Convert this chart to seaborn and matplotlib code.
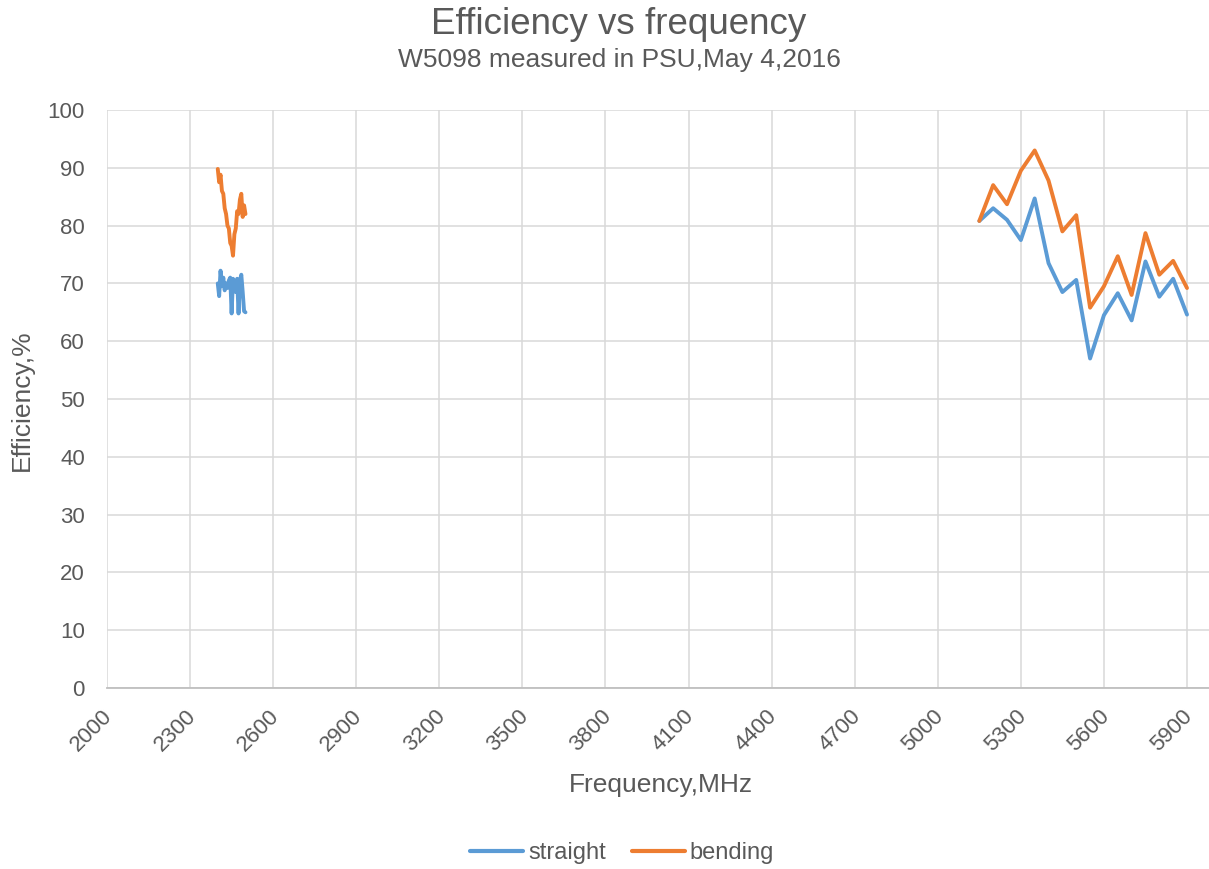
import numpy as np
import pandas as pd
import matplotlib
matplotlib.use("Agg")
import matplotlib.pyplot as plt
import matplotlib.transforms as mtransforms
import seaborn as sns

# 2.4 GHz band
freq_24 = [2400, 2405, 2410, 2415, 2420, 2425, 2430, 2435, 2440, 2445, 2450,
           2455, 2460, 2465, 2470, 2475, 2480, 2485, 2490, 2495, 2500]
straight_24 = [70.0, 67.8, 72.2, 69.5, 71.0, 68.8, 70.0, 69.2, 70.5, 71.0, 64.8,
               70.8, 69.0, 68.5, 70.8, 64.8, 70.5, 71.5, 68.5, 65.2, 65.0]
bending_24 = [89.8, 87.5, 88.8, 86.0, 85.5, 83.0, 82.0, 80.0, 79.5, 77.0, 76.5,
              74.8, 78.5, 79.5, 82.5, 82.0, 84.5, 85.5, 81.5, 83.5, 82.0]

# 5 GHz band
freq_5 = [5150, 5200, 5250, 5300, 5350, 5400, 5450, 5500,
          5550, 5600, 5650, 5700, 5750, 5800, 5850, 5900]
straight_5 = [80.8, 83.0, 81.0, 77.5, 84.7, 73.5, 68.5, 70.6,
              57.0, 64.5, 68.3, 63.6, 73.8, 67.7, 70.8, 64.6]
bending_5 = [80.8, 87.0, 83.7, 89.5, 93.0, 87.8, 79.0, 81.8,
             65.8, 69.5, 74.7, 68.0, 78.7, 71.5, 73.9, 69.2]

x_ticks = list(range(2000, 6000, 300))
y_ticks = list(range(0, 101, 10))

rows = []
for band, f, s, b in [("2.4G", freq_24, straight_24, bending_24),
                      ("5G", freq_5, straight_5, bending_5)]:
    for fi, si, bi in zip(f, s, b):
        rows.append({"freq": fi, "eff": si, "series": "straight", "band": band})
        rows.append({"freq": fi, "eff": bi, "series": "bending", "band": band})
df = pd.DataFrame(rows)

sns.set_theme(style="white")
plt.rcParams["font.family"] = ["Liberation Sans", "DejaVu Sans"]
text_col = "#595959"

fig = plt.figure(figsize=(12.09, 8.69), dpi=100)
ax = fig.add_axes([107 / 1209, 1 - 688 / 869, 1 - 107 / 1209, (688 - 110) / 869])

sns.lineplot(data=df, x="freq", y="eff", hue="series", units="band",
             estimator=None, sort=False, palette={"straight": "#5B9BD5", "bending": "#ED7D31"},
             linewidth=2.8, ax=ax, legend=True)

ax.set_xlim(2000, 2000 + (1209 - 107) / (1080 / 3900))
ax.set_ylim(0, 100)
ax.set_xticks(x_ticks)
ax.set_yticks(y_ticks)
ax.grid(True, color="#d9d9d9", linewidth=1.1)
ax.set_axisbelow(True)
for side in ["left", "right", "top"]:
    ax.spines[side].set_visible(False)
ax.spines["bottom"].set_color("#bfbfbf")
ax.spines["bottom"].set_linewidth(1.3)
ax.tick_params(axis="both", length=0, colors=text_col, labelsize=16)
ax.tick_params(axis="y", pad=16)
ax.tick_params(axis="x", pad=13)
shift = mtransforms.ScaledTranslation(-5 / 100, 0, fig.dpi_scale_trans)
for lbl in ax.get_xticklabels():
    lbl.set_rotation(45)
    lbl.set_ha("right")
    lbl.set_va("top")
    lbl.set_rotation_mode("anchor")
    lbl.set_transform(lbl.get_transform() + shift)
ax.set_xlabel("")
ax.set_ylabel("")

fig.text(661 / 1209, 1 - 785 / 869, "Frequency,MHz", ha="center", va="center",
         fontsize=19, color=text_col)
fig.text(22 / 1209, 1 - 400 / 869, "Efficiency,%", ha="center", va="center",
         rotation=90, fontsize=19, color=text_col)
fig.text(619 / 1209, 1 - 24 / 869, "Efficiency vs frequency", ha="center", va="center",
         fontsize=26.5, color=text_col)
fig.text(619 / 1209, 1 - 60 / 869, "W5098 measured in PSU,May 4,2016", ha="center",
         va="center", fontsize=19, color=text_col)

handles, labels = ax.get_legend_handles_labels()
ax.legend_.remove()
leg = fig.legend(handles, labels, loc="center", bbox_to_anchor=(622 / 1209, 1 - 853 / 869),
                 ncol=2, frameon=False, fontsize=17, handlelength=2.25,
                 handletextpad=0.2, columnspacing=1.1)
for t in leg.get_texts():
    t.set_color(text_col)
for h in leg.get_lines():
    h.set_linewidth(3)

fig.savefig("out.png", dpi=100)
